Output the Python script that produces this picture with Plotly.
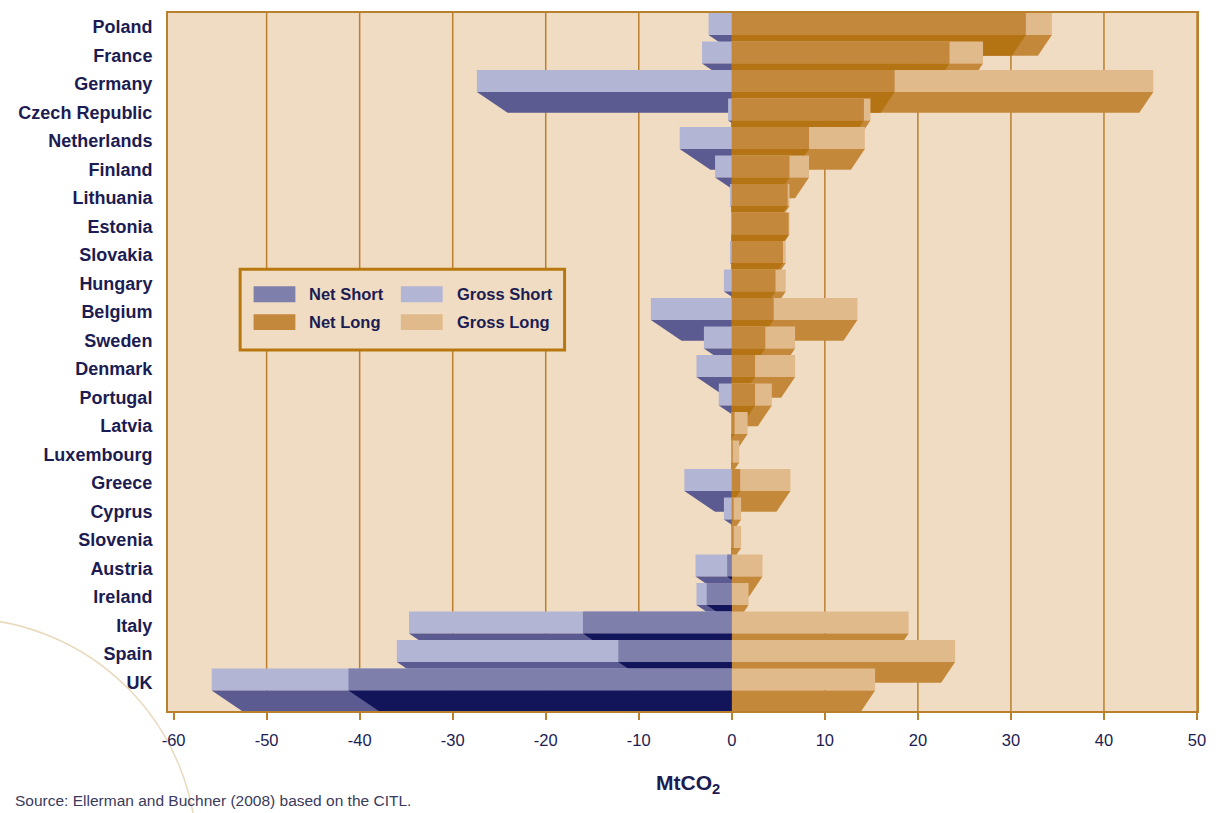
import plotly.graph_objects as go

# Allowance positions by member state (MtCO2), top to bottom
countries = ["Poland", "France", "Germany", "Czech Republic", "Netherlands", "Finland",
             "Lithuania", "Estonia", "Slovakia", "Hungary", "Belgium", "Sweden",
             "Denmark", "Portugal", "Latvia", "Luxembourg", "Greece", "Cyprus",
             "Slovenia", "Austria", "Ireland", "Italy", "Spain", "UK"]
gross_short = [-2.5, -3.2, -27.4, -0.4, -5.6, -1.8, -0.2, -0.1, -0.2, -0.85, -8.7, -3.0,
               -3.8, -1.4, -0.05, -0.05, -5.1, -0.85, -0.05, -3.9, -3.8, -34.7, -36.0, -55.9]
gross_long = [34.4, 27.0, 45.3, 14.9, 14.3, 8.3, 6.2, 6.2, 5.8, 5.8, 13.5, 6.8,
              6.8, 4.3, 1.7, 0.8, 6.3, 1.0, 1.0, 3.3, 1.8, 19.0, 24.0, 15.4]
net = [31.6, 23.4, 17.5, 14.2, 8.3, 6.2, 6.0, 6.1, 5.5, 4.7, 4.5, 3.6,
       2.5, 2.5, 0.3, 0.1, 0.9, 0.2, 0.2, -0.5, -2.7, -16.0, -12.2, -41.2]
x_ticks = [-60, -50, -40, -30, -20, -10, 0, 10, 20, 30, 40, 50]

NAVY = "#1c1c52"
TAN_LINE = "#b9802e"
PLOT_BG = "#efdcc2"

# (front face, underside) colours for each series
C_GROSS_SHORT = ("#b3b5d5", "#5b5b92")
C_NET_SHORT = ("#7f7fab", "#13155a")
C_GROSS_LONG = ("#e1ba8b", "#c4883a")
C_NET_LONG = ("#c3883b", "#b47414")

# bar geometry in row units (one row = one category step)
FRONT_TOP, FRONT_BOTTOM, UNDER_BOTTOM = -0.49, 0.28, 1.01
SHIFT_NEG, SHIFT_POS = 3.3, -1.5   # horizontal slant of the underside (data units)

fig = go.Figure()


def add_poly(xs, ys, color):
    fig.add_trace(go.Scatter(x=xs, y=ys, fill="toself", fillcolor=color, mode="lines",
                             line=dict(width=0), hoverinfo="skip", showlegend=False))


def add_bar(v, row, colors):
    if v == 0:
        return
    yt, yf, yb = row + FRONT_TOP, row + FRONT_BOTTOM, row + UNDER_BOTTOM
    add_poly([0, v, v, 0, 0], [yt, yt, yf, yf, yt], colors[0])
    s = SHIFT_NEG if v < 0 else SHIFT_POS
    end = v + s
    if (v < 0 and end < 0) or (v > 0 and end > 0):
        add_poly([0, v, end, 0, 0], [yf, yf, yb, yb, yf], colors[1])
    else:
        frac = abs(v) / abs(s)
        add_poly([0, v, 0, 0], [yf, yf, yf + frac * (yb - yf), yf], colors[1])


for i in range(len(countries)):
    add_bar(gross_short[i], i, C_GROSS_SHORT)
    add_bar(gross_long[i], i, C_GROSS_LONG)
    add_bar(net[i], i, C_NET_LONG if net[i] > 0 else C_NET_SHORT)

# vertical gridlines beneath the bars
shapes = []
for t in x_ticks[1:]:
    shapes.append(dict(type="line", xref="x", yref="paper", x0=t, x1=t, y0=0, y1=1,
                       line=dict(color=TAN_LINE, width=1.5), layer="below"))

# decorative arc in the lower-left corner (pixel geometry converted to paper units)
L, R, T, B = 168, 1202, 11, 711


def px(x):
    return (x - L) / (R - L)


def py(y):
    return (B - y) / (B - T)


cx, cy, rad = -41, 856, 238
shapes.append(dict(type="circle", xref="paper", yref="paper",
                   x0=px(cx - rad), x1=px(cx + rad), y0=py(cy + rad), y1=py(cy - rad),
                   line=dict(color="#e9d9bd", width=1.5), layer="below"))

# legend box
shapes.append(dict(type="rect", xref="paper", yref="paper",
                   x0=px(240.5), x1=px(566.5), y0=py(349), y1=py(268),
                   fillcolor=PLOT_BG, line=dict(color="#b8780f", width=3)))
legend_items = [
    ("Net Short", C_NET_SHORT[0], 254, 293),
    ("Gross Short", C_GROSS_SHORT[0], 402, 293),
    ("Net Long", C_NET_LONG[0], 254, 321),
    ("Gross Long", C_GROSS_LONG[0], 402, 321),
]
annotations = []
for name, col, x0, yc in legend_items:
    shapes.append(dict(type="rect", xref="paper", yref="paper",
                       x0=px(x0), x1=px(x0 + 42), y0=py(yc + 8), y1=py(yc - 8),
                       fillcolor=col, line=dict(width=0)))
    annotations.append(dict(text=name, xref="paper", yref="paper", x=px(x0 + 54), y=py(yc),
                            xanchor="left", yanchor="middle", showarrow=False,
                            font=dict(family="Liberation Sans", size=16.5, color=NAVY,
                                      weight="bold")))

annotations.append(dict(text="MtCO<sub>2</sub>", xref="paper", yref="paper",
                        x=px(691), y=py(784), xanchor="center", yanchor="middle",
                        showarrow=False,
                        font=dict(family="Liberation Sans", size=21, color=NAVY,
                                  weight="bold")))
annotations.append(dict(text="Source: Ellerman and Buchner (2008) based on the CITL.",
                        xref="paper", yref="paper", x=px(12), y=py(801),
                        xanchor="left", yanchor="middle", showarrow=False,
                        font=dict(family="Liberation Sans", size=15.5, color="#3a3a5c")))

fig.update_layout(
    width=1217, height=813, autosize=False,
    margin=dict(l=L, r=1217 - R, t=T, b=813 - B),
    paper_bgcolor="white", plot_bgcolor=PLOT_BG,
    shapes=shapes, annotations=annotations, showlegend=False,
    xaxis=dict(range=[-60.6, 50], tickvals=x_ticks, ticktext=[str(t) for t in x_ticks],
               showgrid=False, zeroline=False, showline=True, linecolor=TAN_LINE,
               linewidth=2, mirror=True, ticks="outside", ticklen=7, tickwidth=1.5,
               tickcolor=TAN_LINE, ticklabelstandoff=6,
               tickfont=dict(family="Liberation Sans", size=16.5, color=NAVY)),
    yaxis=dict(range=[24.0, -0.49], tickvals=list(range(len(countries))), ticktext=countries,
               showgrid=False, zeroline=False, showline=True, linecolor=TAN_LINE,
               linewidth=2, mirror=True, ticks="", ticklabelstandoff=10,
               tickfont=dict(family="Liberation Sans", size=18, color=NAVY, weight="bold")),
)

fig.write_html("out.html")
